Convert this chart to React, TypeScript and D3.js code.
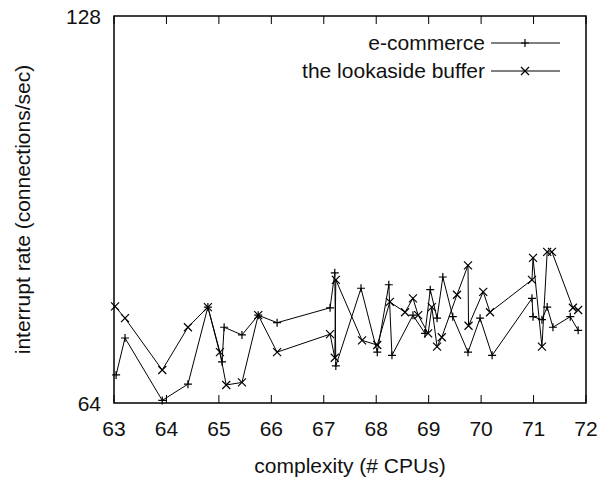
import React from "react";
import * as d3 from "d3";

// e-commerce series (+ markers)
const ecomX = [63.04, 63.21, 63.92, 64.41, 64.79, 65.06, 65.1, 65.44, 65.75, 66.11, 67.12, 67.21, 67.23, 67.71, 68.02, 68.24, 68.3, 68.7, 68.93, 69.03, 69.16, 69.27, 69.46, 69.75, 69.98, 70.21, 70.97, 70.99, 71.16, 71.26, 71.37, 71.7, 71.85];
const ecomY = [67.3, 71.9, 64.3, 66.2, 76.0, 68.9, 73.3, 72.3, 74.9, 73.9, 75.9, 80.8, 68.4, 78.6, 70.1, 79.1, 69.7, 74.9, 72.5, 78.4, 74.5, 80.2, 74.7, 70.1, 74.5, 69.7, 77.2, 74.7, 74.3, 76.0, 73.3, 74.7, 72.9];

// the lookaside buffer series (x markers)
const lookX = [63.02, 63.21, 63.92, 64.41, 64.79, 65.02, 65.14, 65.44, 65.75, 66.11, 67.12, 67.21, 67.23, 67.73, 68.02, 68.26, 68.55, 68.7, 68.8, 68.99, 69.06, 69.16, 69.25, 69.54, 69.75, 69.76, 70.04, 70.17, 70.97, 70.99, 71.16, 71.26, 71.35, 71.75, 71.85];
const lookY = [76.1, 74.5, 67.9, 73.3, 76.0, 70.1, 66.1, 66.4, 74.9, 70.1, 72.4, 69.4, 79.8, 71.6, 71.0, 76.7, 75.3, 77.2, 74.9, 72.5, 76.0, 70.8, 72.0, 77.7, 81.9, 73.5, 78.1, 75.3, 79.8, 83.0, 70.8, 83.9, 83.9, 75.9, 75.6];

const xTicks = [63, 64, 65, 66, 67, 68, 69, 70, 71, 72];
const yTicks = [64, 128];
const seriesNames = ["e-commerce", "the lookaside buffer"];

const W = 602;
const H = 484;
const font = "'Liberation Sans', Arial, Helvetica, sans-serif";

export default function App() {
  const x = d3.scaleLinear().domain([63, 72]).range([114, 586]);
  const y = d3.scaleLog().base(2).domain([64, 128]).range([403, 16]);

  const ecom = ecomX.map((v, i) => [v, ecomY[i]] as [number, number]);
  const look = lookX.map((v, i) => [v, lookY[i]] as [number, number]);

  const line = d3
    .line<[number, number]>()
    .x((d) => x(d[0]))
    .y((d) => y(d[1]));

  const plus = (cx: number, cy: number, k: string) => (
    <path key={k} d={`M${cx - 4},${cy}H${cx + 4}M${cx},${cy - 4}V${cy + 4}`} stroke="#000" strokeWidth={1.2} />
  );
  const cross = (cx: number, cy: number, k: string) => (
    <path key={k} d={`M${cx - 4},${cy - 4}L${cx + 4},${cy + 4}M${cx - 4},${cy + 4}L${cx + 4},${cy - 4}`} stroke="#000" strokeWidth={1.2} />
  );

  const [x0, x1] = x.range();
  const [y0, y1] = y.range();

  return (
    <svg width={W} height={H} style={{ position: "absolute", left: 0, top: 0, background: "#fff" }}>
      {/* frame */}
      <rect x={x0} y={y1} width={x1 - x0} height={y0 - y1} fill="none" stroke="#000" strokeWidth={1.5} />

      {/* x ticks, mirrored on top */}
      {xTicks.map((t) => (
        <g key={"xt" + t}>
          <line x1={x(t)} x2={x(t)} y1={y0} y2={y0 - 8} stroke="#000" />
          <line x1={x(t)} x2={x(t)} y1={y1} y2={y1 + 8} stroke="#000" />
          <text x={x(t)} y={y0 + 33} textAnchor="middle" fontFamily={font} fontSize={21} fill="#111">
            {t}
          </text>
        </g>
      ))}

      {yTicks.map((t) => (
        <text key={"yt" + t} x={x0 - 13} y={y(t) + 8} textAnchor="end" fontFamily={font} fontSize={21} fill="#111">
          {t}
        </text>
      ))}

      {/* data */}
      <path d={line(ecom) || ""} fill="none" stroke="#000" strokeWidth={1} />
      <path d={line(look) || ""} fill="none" stroke="#000" strokeWidth={1} />
      {ecom.map((d, i) => plus(x(d[0]), y(d[1]), "p" + i))}
      {look.map((d, i) => cross(x(d[0]), y(d[1]), "c" + i))}

      {/* legend */}
      <text x={485} y={50} textAnchor="end" fontFamily={font} fontSize={21} fill="#111">
        {seriesNames[0]}
      </text>
      <line x1={491} x2={560} y1={43} y2={43} stroke="#000" />
      {plus(525, 43, "lp")}
      <text x={485} y={78} textAnchor="end" fontFamily={font} fontSize={21} fill="#111">
        {seriesNames[1]}
      </text>
      <line x1={491} x2={560} y1={71} y2={71} stroke="#000" />
      {cross(525, 71, "lc")}

      {/* axis titles */}
      <text x={350} y={473} textAnchor="middle" fontFamily={font} fontSize={21} fill="#111">
        complexity (# CPUs)
      </text>
      <text
        transform={`translate(30,${(y0 + y1) / 2}) rotate(-90)`}
        textAnchor="middle"
        fontFamily={font}
        fontSize={21}
        fill="#111"
      >
        interrupt rate (connections/sec)
      </text>
    </svg>
  );
}
